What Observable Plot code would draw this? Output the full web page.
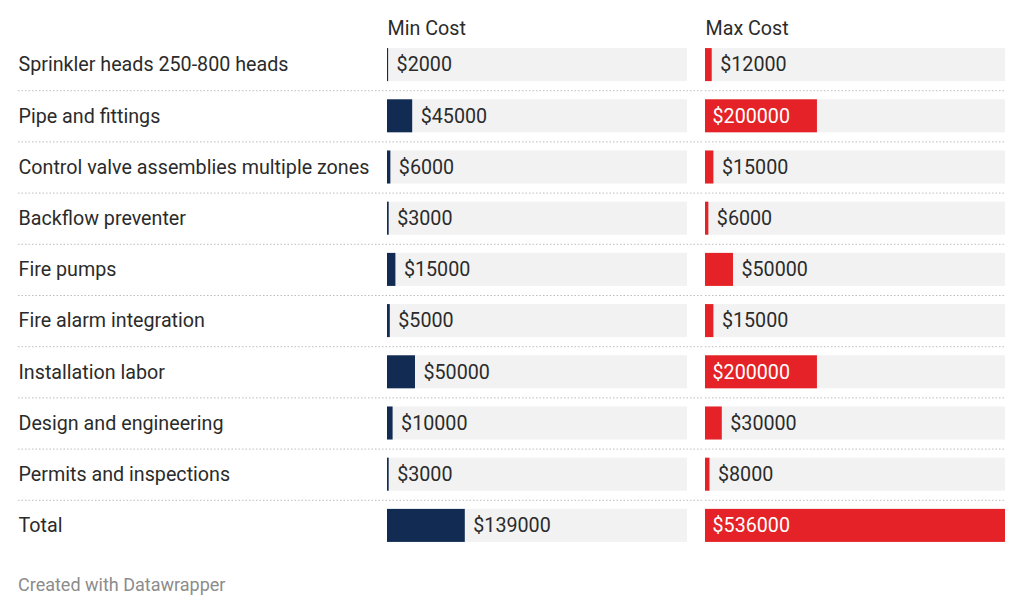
<!DOCTYPE html>
<html>
<head>
<meta charset="utf-8">
<script src="https://cdn.jsdelivr.net/npm/d3@7"></script>
<script src="https://cdn.jsdelivr.net/npm/@observablehq/plot@0.6"></script>
<style>
  body { margin: 0; background: #fff; font-family: Roboto, sans-serif; }
  #chart { width: 1024px; }
  #footer { font-family: Roboto, sans-serif; font-size: 18px; color: #8c8c8c; margin: 14px 0 0 18px; }
</style>
</head>
<body>
<div id="chart"></div>
<div id="footer">Created with Datawrapper</div>
<script>
const categories = [
  "Sprinkler heads 250-800 heads",
  "Pipe and fittings",
  "Control valve assemblies multiple zones",
  "Backflow preventer",
  "Fire pumps",
  "Fire alarm integration",
  "Installation labor",
  "Design and engineering",
  "Permits and inspections",
  "Total"
];
const columns = ["Min Cost", "Max Cost"];
const minCost = [2000, 45000, 6000, 3000, 15000, 5000, 50000, 10000, 3000, 139000];
const maxCost = [12000, 200000, 15000, 6000, 50000, 15000, 200000, 30000, 8000, 536000];
const colors = {"Min Cost": "#122b53", "Max Cost": "#e42227"};

const rows = [];
categories.forEach((c, i) => {
  rows.push({category: c, column: "Min Cost", value: minCost[i]});
  rows.push({category: c, column: "Max Cost", value: maxCost[i]});
});
const maxValue = d3.max(rows, d => d.value);
const fits = d => d.value / maxValue > 0.3;
const fmt = v => "$" + v;

const width = 1024, height = 560;
const marginLeft = 387, marginRight = 19, marginTop = 39, marginBottom = 9;
const step = (height - marginTop - marginBottom) / categories.length;
const labelX = 18;
const fs = 19.7;

const seps = [];
categories.slice(0, -1).forEach(c => columns.forEach(col => seps.push({category: c, column: col})));

const chart = Plot.plot({
  width, height, marginLeft, marginRight, marginTop, marginBottom,
  style: {fontFamily: "Roboto", fontSize: fs + "px", color: "#333"},
  fx: {domain: columns, paddingInner: 0.0566, paddingOuter: 0, round: false, axis: null, label: null},
  x: {domain: [0, maxValue], axis: null},
  y: {domain: categories, paddingInner: 0.355, paddingOuter: 0.1775, round: false, axis: null},
  facet: {marginLeft: 0, marginRight: 0, marginTop: 0, marginBottom: 0},
  marks: [
    Plot.ruleY(seps.filter(d => d.column === "Min Cost"), {
      y: "category", fx: "column", dy: step / 2,
      insetLeft: -(marginLeft - labelX), insetRight: -17,
      stroke: "#bdbdbd", strokeDasharray: "1.5,2", strokeWidth: 1
    }),
    Plot.ruleY(seps.filter(d => d.column === "Max Cost"), {
      y: "category", fx: "column", dy: step / 2,
      stroke: "#bdbdbd", strokeDasharray: "1.5,2", strokeWidth: 1
    }),
    Plot.barX(rows, {y: "category", fx: "column", x1: 0, x2: maxValue, fill: "#f2f2f2"}),
    Plot.barX(rows, {y: "category", fx: "column", x1: 0, x2: "value", fill: d => colors[d.column]}),
    Plot.text(rows.filter(d => !fits(d)), {
      y: "category", fx: "column", x: "value", text: d => fmt(d.value),
      textAnchor: "start", dx: 8, fill: "#2b2b2b", fontSize: fs
    }),
    Plot.text(rows.filter(fits), {
      y: "category", fx: "column", x: () => 0, text: d => fmt(d.value),
      textAnchor: "start", dx: 7, fill: "#fff", fontSize: fs
    }),
    Plot.text(columns, {
      fx: d => d, text: d => d, frameAnchor: "top-left", dy: -19,
      textAnchor: "start", fill: "#2b2b2b", fontSize: fs
    }),
    Plot.axisY({
      anchor: "left", tickSize: 0, tickPadding: marginLeft - labelX,
      textAnchor: "start", fontSize: fs, fill: "#2b2b2b", label: null
    })
  ]
});
document.getElementById("chart").append(chart);
</script>
</body>
</html>
